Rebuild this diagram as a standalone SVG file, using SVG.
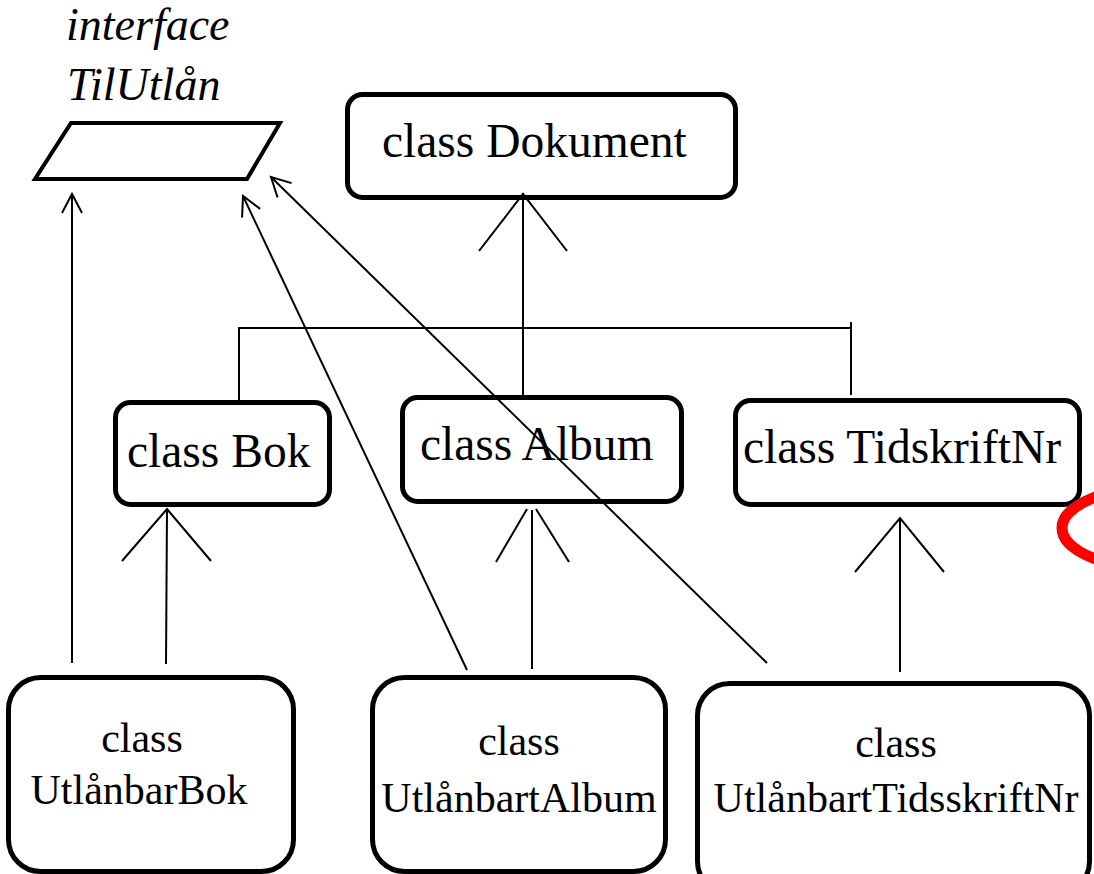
<svg xmlns="http://www.w3.org/2000/svg" width="1094" height="874" viewBox="0 0 1094 874">
  <style>
    .box { fill: #ffffff; stroke: #000000; stroke-width: 5; }
    .conn { fill: none; stroke: #000000; stroke-width: 2; }
    .lbl { font-family: "Liberation Serif", "Times New Roman", serif; fill: #000000; }
    .top { font-size: 47.5px; }
    .low { font-size: 42px; text-anchor: middle; }
    .ital { font-size: 46px; font-style: italic; }
  </style>
  <defs>
    <marker id="open" markerUnits="userSpaceOnUse" markerWidth="40" markerHeight="40" refX="0" refY="0" orient="auto" overflow="visible">
      <path d="M -19 -10 L 0 0 L -19 10" fill="none" stroke="#000000" stroke-width="2"/>
    </marker>
  </defs>

  <rect width="1094" height="874" fill="#ffffff"/>

  <!-- interface TilUtlån -->
  <g id="TilUtlan">
    <text class="lbl ital" x="66" y="40">interface</text>
    <text class="lbl ital" x="67" y="100">TilUtlån</text>
    <polygon points="71,123 280,123 247,179 35,179" fill="#ffffff" stroke="#000000" stroke-width="4"/>
  </g>

  <g id="Dokument">
    <rect class="box" x="347.5" y="94.5" width="388" height="103" rx="15"/>
    <text class="lbl top" x="382" y="157">class Dokument</text>
  </g>

  <g id="Bok">
    <rect class="box" x="115.5" y="402.5" width="214" height="102" rx="15"/>
    <text class="lbl top" x="127" y="467">class Bok</text>
  </g>

  <g id="Album">
    <rect class="box" x="402.5" y="397.5" width="279" height="104" rx="15"/>
    <text class="lbl top" x="420" y="460">class Album</text>
  </g>

  <g id="TidskriftNr">
    <rect class="box" x="735.5" y="400.5" width="344" height="104" rx="15"/>
    <text class="lbl top" x="743" y="463">class TidskriftNr</text>
  </g>

  <g id="UtlanbarBok">
    <rect class="box" x="8.5" y="677.5" width="285" height="194" rx="32"/>
    <text class="lbl low" x="142" y="752">class</text>
    <text class="lbl low" x="139" y="804">UtlånbarBok</text>
  </g>

  <g id="UtlanbartAlbum">
    <rect class="box" x="372.5" y="677.5" width="293" height="194" rx="32"/>
    <text class="lbl low" x="519" y="755">class</text>
    <text class="lbl low" x="519" y="812">UtlånbartAlbum</text>
  </g>

  <g id="UtlanbartTidsskriftNr">
    <rect class="box" x="697.5" y="683.5" width="392" height="210" rx="32"/>
    <text class="lbl low" x="896" y="757">class</text>
    <text class="lbl low" x="896" y="812">UtlånbartTidsskriftNr</text>
  </g>

  <!-- connectors, drawn over the boxes -->
  <g id="connectors">
    <!-- Dokument hierarchy bus -->
    <polyline class="conn" points="239,400 239,328 851,328"/>
    <line class="conn" x1="851" y1="322" x2="851" y2="395"/>
    <line class="conn" x1="523" y1="395" x2="523" y2="194"/>
    <polyline class="conn" points="479,251 523,194 567,251"/>

    <!-- UtlånbarBok -> Bok -->
    <line class="conn" x1="166" y1="664" x2="167" y2="509"/>
    <polyline class="conn" points="122,561 167,509 211,561"/>

    <!-- UtlånbartAlbum -> Album -->
    <line class="conn" x1="532" y1="669" x2="532" y2="510"/>
    <line class="conn" x1="527" y1="509" x2="496" y2="562"/>
    <line class="conn" x1="536" y1="509" x2="569" y2="562"/>

    <!-- UtlånbartTidsskriftNr -> TidskriftNr -->
    <line class="conn" x1="900" y1="672" x2="900" y2="518"/>
    <polyline class="conn" points="855,572 900,518 944,572"/>

    <!-- realisations of TilUtlån -->
    <line class="conn" x1="72" y1="663" x2="72" y2="194" marker-end="url(#open)"/>
    <line class="conn" x1="467" y1="670" x2="243" y2="196" marker-end="url(#open)"/>
    <line class="conn" x1="767" y1="663" x2="271" y2="177" marker-end="url(#open)"/>
  </g>

  <!-- red highlight ring at the right edge -->
  <ellipse cx="1165" cy="528" rx="103" ry="42" fill="none" stroke="#ff0000" stroke-width="11"/>
</svg>
